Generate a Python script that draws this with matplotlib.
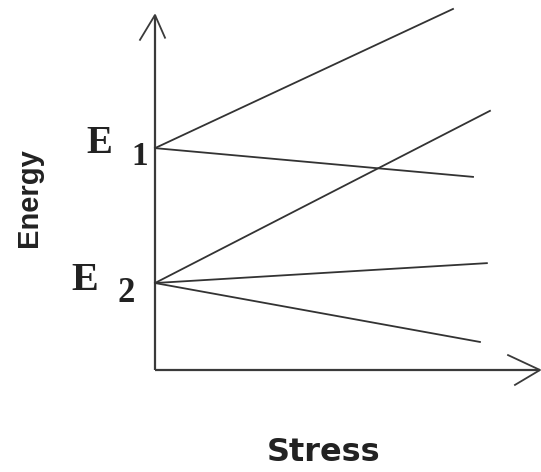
import matplotlib
matplotlib.use("Agg")
import matplotlib.pyplot as plt

# Schematic data (arbitrary units): energy levels and level-splitting lines under stress
level_names = ["E", "E"]
level_subscripts = ["1", "2"]
level_energy = [6.25, 2.45]           # E1, E2 at zero stress
# each branch: (level index, end stress, end energy)
branch_level = [0, 0, 1, 1, 1]
branch_end_stress = [7.74, 8.26, 8.70, 8.62, 8.44]
branch_end_energy = [10.17, 5.44, 7.30, 3.01, 0.79]
x_label = "Stress"
y_label = "Energy"

W, H = 541, 472
fig = plt.figure(figsize=(W / 100, H / 100), dpi=100)
fig.patch.set_facecolor("white")

# axes box in pixels: x 155->540, y 370->15
ax = fig.add_axes([155 / W, (H - 370) / H, (540 - 155) / W, (370 - 15) / H])
ax.set_xlim(0, 10)
ax.set_ylim(0, 10)
ax.axis("off")

axis_color = "#3a3a3a"
line_color = "#333333"

# axes lines with open arrowheads
ax.plot([0, 0], [0, 10], color=axis_color, lw=1.6, clip_on=False, solid_capstyle="butt")
ax.plot([0, 10], [0, 0], color=axis_color, lw=1.6, clip_on=False, solid_capstyle="butt")
ax.plot([-0.39, 0, 0.26], [9.30, 10, 9.36], color=axis_color, lw=1.3, clip_on=False)
ax.plot([9.17, 10, 9.35], [0.42, 0, -0.42], color=axis_color, lw=1.3, clip_on=False)

for lvl, xs, ys in zip(branch_level, branch_end_stress, branch_end_energy):
    ax.plot([0, xs], [level_energy[lvl], ys], color=line_color, lw=1.3, clip_on=False)

# level labels (figure pixel positions)
def ftext(x, y, s, **kw):
    fig.text(x / W, 1 - y / H, s, **kw)

serif = ["Liberation Serif", "DejaVu Serif"]
ftext(99, 153, level_names[0], ha="center", va="baseline", family=serif,
      fontweight="bold", fontsize=28, color="#222222")
ftext(140, 165, level_subscripts[0], ha="center", va="baseline", family=serif,
      fontweight="bold", fontsize=24, color="#222222")
ftext(85, 290, level_names[1], ha="center", va="baseline", family=serif,
      fontweight="bold", fontsize=29, color="#222222")
ftext(126, 302, level_subscripts[1], ha="center", va="baseline", family=serif,
      fontweight="bold", fontsize=25, color="#222222")

ftext(29, 198, y_label, ha="center", va="center", rotation=90,
      family=["Liberation Sans", "DejaVu Sans"], fontweight="bold", fontsize=21,
      color="#222222")
ftext(324, 461, x_label, ha="center", va="baseline",
      family=["DejaVu Sans"], fontweight="bold", fontsize=23, color="#222222")

fig.savefig("out.png", dpi=100, facecolor="white")
